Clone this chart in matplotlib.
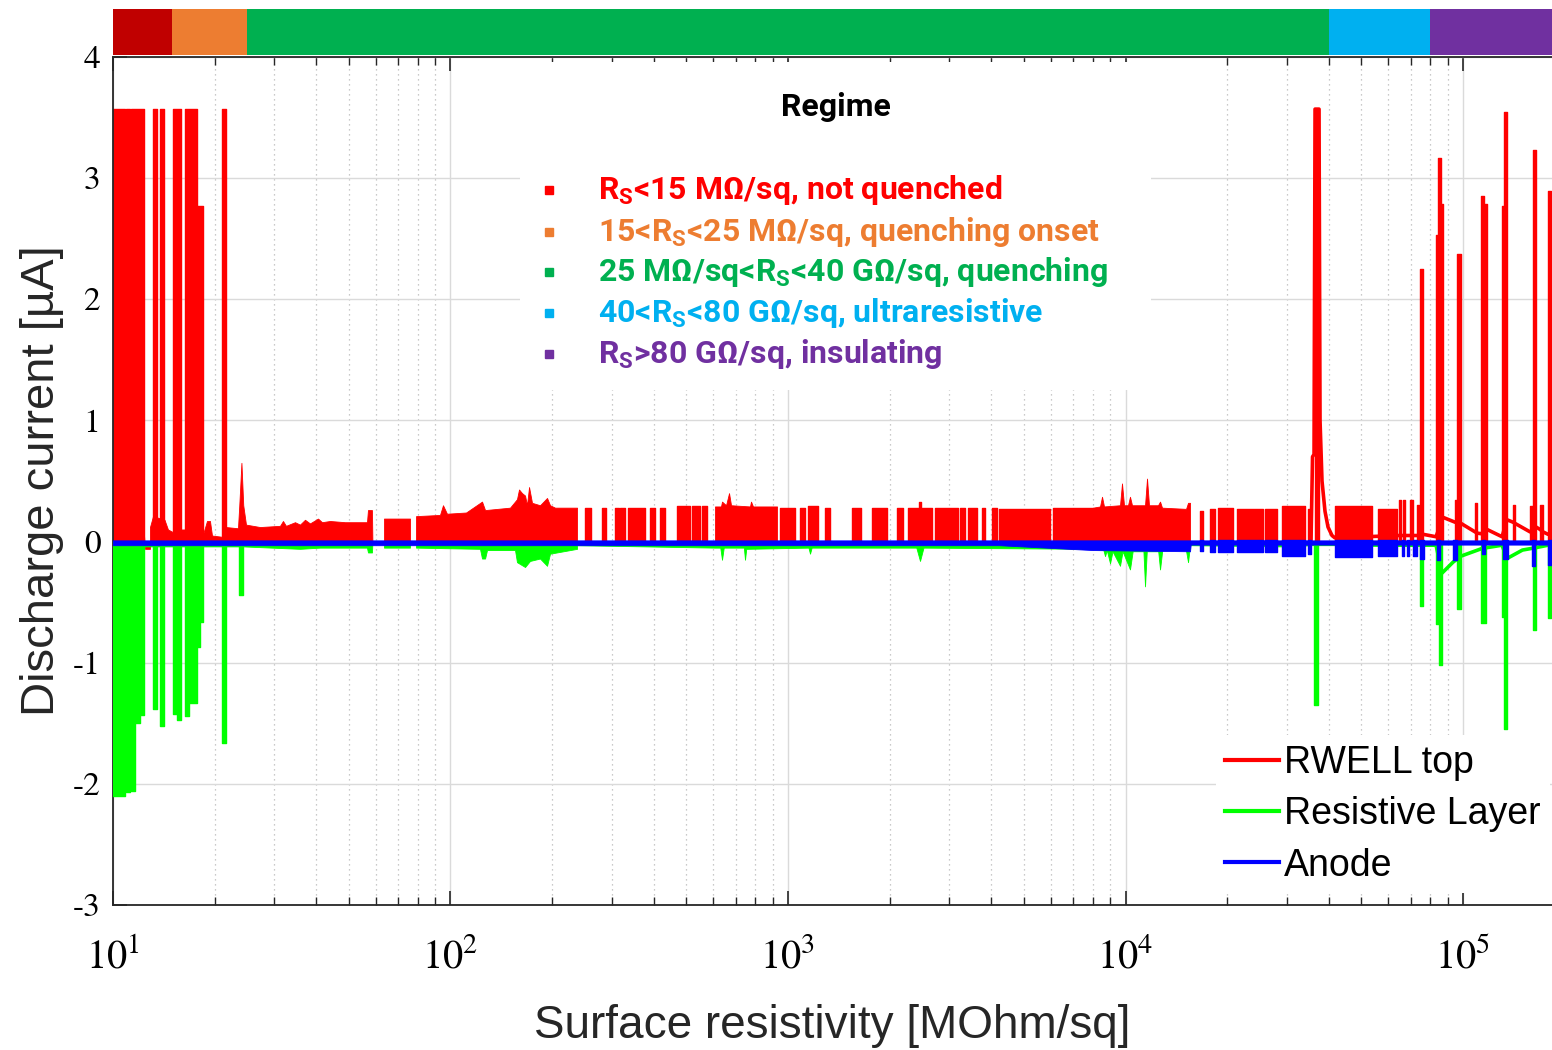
import matplotlib
matplotlib.use("Agg")
import matplotlib.pyplot as plt
from matplotlib.lines import Line2D
from matplotlib.patches import Rectangle

plt.rcParams['axes.unicode_minus'] = False
plt.rcParams['mathtext.fontset'] = 'stix'
plt.rcParams['mathtext.rm'] = 'Roboto'
plt.rcParams['mathtext.bf'] = 'Roboto:bold'

## Regimes (surface resistivity in MOhm/sq)
regime_edges = [10, 15, 25, 40000, 80000, 183500]
regime_colors = ["#C00000", "#ED7D31", "#00B050", "#00B0F0", "#7030A0"]
regime_text_colors = ["#FF0000", "#ED7D31", "#00B050", "#00B0F0", "#7030A0"]
regime_labels = [
    r"$\mathbf{R_S}$<15 MΩ/sq, not quenched",
    r"15<$\mathbf{R_S}$<25 MΩ/sq, quenching onset",
    r"25 MΩ/sq<$\mathbf{R_S}$<40 GΩ/sq, quenching",
    r"40<$\mathbf{R_S}$<80 GΩ/sq, ultraresistive",
    r"$\mathbf{R_S}$>80 GΩ/sq, insulating",
]
series_labels = ["RWELL top", "Resistive Layer", "Anode"]

## RWELL top: dense envelope (filled to 0)
rwell_env_x = [12.36, 12.44, 12.87, 12.87, 13.14, 14.21, 14.55, 15.01, 15.90, 16.29,
               18.48, 18.99, 19.38, 19.65, 20.99, 21.62, 23.46, 23.67, 24.02, 24.32,
               24.78, 27.27, 31.25, 31.89, 32.55, 34.62, 35.81, 37.06, 38.34, 40.50,
               41.62, 43.95, 48.69, 56.57, 56.95, 58.52, 58.70, 63.53, 63.53, 75.86,
               75.86, 79.04, 79.04, 93.09, 95.01, 97.63, 111.2, 124.0, 126.6, 150.1,
               157.4, 159.6, 162.9, 166.3, 168.5, 170.9, 174.4, 184.2, 193.2, 197.2,
               204.1, 237.1, 237.1,
               607.7, 607.7, 633.1, 637.5, 655.2, 668.8, 678.0, 771.6, 776.9, 787.5,
               927.8, 927.8,
               8012, 8012, 8404, 8519, 8636, 9632, 9763, 9899, 10172, 10310,
               10454, 11424, 11580, 11738, 12484, 12656, 12829, 15113, 15320, 15530, 15530]
rwell_env_y = [0.05, -0.06, -0.06, 0.12, 0.21, 0.18, 0.10, 0.08, 0.10, 0.10,
               0.06, 0.17, 0.17, 0.05, 0.04, 0.12, 0.11, 0.30, 0.65, 0.30,
               0.14, 0.12, 0.13, 0.17, 0.13, 0.16, 0.14, 0.18, 0.15, 0.19,
               0.16, 0.17, 0.16, 0.16, 0.26, 0.26, 0.0, 0.0, 0.19, 0.19,
               0.0, 0.0, 0.21, 0.22, 0.30, 0.23, 0.24, 0.33, 0.26, 0.28,
               0.35, 0.43, 0.40, 0.38, 0.30, 0.45, 0.32, 0.30, 0.36, 0.30,
               0.28, 0.28, 0.0,
               0.0, 0.29, 0.29, 0.33, 0.30, 0.40, 0.30, 0.29, 0.33, 0.29,
               0.29, 0.0,
               0.0, 0.28, 0.29, 0.37, 0.29, 0.30, 0.48, 0.30, 0.30, 0.37,
               0.30, 0.30, 0.52, 0.30, 0.30, 0.33, 0.28, 0.27, 0.32, 0.32, 0.0]

## RWELL top: blocks (start, end, top)
rwell_x0 = [10.0, 10.93, 11.31, 13.14, 13.78, 15.01, 16.29, 17.74, 20.99,
            250.4, 281.1, 307.2, 317.8, 335.7, 390.1, 417.6, 469.0, 519.5, 556.1,
            947, 1085, 1147, 1287, 1547, 1774, 2104, 2268, 2440, 2727, 3233, 3415,
            3756, 4021, 4219, 6099,
            16630, 17800, 18800, 21400, 25900, 29090, 34740, 36440, 41760, 56010,
            64630, 66420, 69660, 73060, 74580, 83180, 84320, 86070, 94700, 96000,
            108550, 113070, 115420, 130500, 132300, 140650, 158000, 161300, 169130, 178600]
rwell_x1 = [10.82, 11.21, 12.36, 13.53, 14.21, 15.87, 17.74, 18.48, 21.62,
            260.9, 288.9, 315.7, 328.9, 377.1, 403.6, 432.2, 512.4, 548.6, 575.4,
            1049, 1123, 1227, 1332, 1646, 1965, 2191, 2672, 2480, 3189, 3345, 3631,
            3834, 4162, 5975, 8012,
            16970, 18420, 20820, 25550, 28110, 34040, 35450, 37440, 53770, 63750,
            65520, 67320, 71100, 74060, 76120, 84320, 86070, 87250, 96000, 98650,
            110040, 115420, 117800, 132300, 135000, 142600, 161300, 164600, 172580, 182300]
rwell_top = [3.57, 3.57, 3.57, 3.57, 3.57, 3.57, 3.57, 2.77, 3.57,
             0.28, 0.28, 0.28, 0.28, 0.28, 0.28, 0.28, 0.29, 0.29, 0.29,
             0.28, 0.28, 0.29, 0.28, 0.28, 0.28, 0.28, 0.28, 0.33, 0.28, 0.28, 0.28,
             0.28, 0.28, 0.27, 0.28,
             0.25, 0.27, 0.28, 0.27, 0.27, 0.29, 0.27, 3.57, 0.29, 0.27,
             0.34, 0.34, 0.34, 0.30, 2.25, 2.53, 3.17, 2.79, 0.34, 2.37,
             0.32, 2.85, 2.79, 2.77, 3.55, 0.30, 0.29, 3.23, 0.30, 2.89]

## RWELL top: decay tails
rwell_line_x = [35450, 35820, 36190, 36440, 37440, 37700, 38210, 39000, 39810, 40910, 41760,
                63750, 74580, 76120, 83180, 87250, 94700, 98650, 108550, 110040, 113070,
                117800, 130500, 135000, 140650, 142600, 158000, 164600, 169130, 172580,
                178600, 182300, 183500]
rwell_line_y = [0.0, 0.70, 0.72, 3.57, 3.57, 1.0, 0.5, 0.25, 0.12, 0.05, 0.03,
                0.05, 0.05, 0.06, 0.04, 0.20, 0.16, 0.15, 0.08, 0.07, 0.065,
                0.10, 0.04, 0.18, 0.16, 0.15, 0.08, 0.12, 0.10, 0.08,
                0.06, 0.06, 0.06]

## Resistive layer: blocks (start, end, bottom)
resist_x0 = [10.0, 10.93, 11.31, 11.62, 12.02, 13.14, 13.78, 15.01, 15.44, 16.29,
             16.83, 17.74, 18.11, 20.99, 23.67, 36190, 74580, 83180, 84900, 96000,
             113070, 130500, 132300, 161300, 178600]
resist_x1 = [10.82, 11.21, 11.62, 12.02, 12.36, 13.53, 14.21, 15.44, 15.87, 16.83,
             17.74, 18.11, 18.48, 21.62, 24.32, 37190, 76120, 84900, 86660, 98650,
             117000, 132300, 135000, 164600, 182300]
resist_low = [-2.10, -2.07, -2.06, -1.50, -1.43, -1.38, -1.52, -1.42, -1.47, -1.44,
              -1.33, -0.87, -0.66, -1.66, -0.44, -1.35, -0.53, -0.68, -1.02, -0.56,
              -0.67, -0.62, -1.55, -0.73, -0.63]

## Resistive layer: dense envelope (filled to 0)
resist_env_x = [10, 24.32, 35.81, 41.06, 56.57, 56.95, 58.52, 58.70, 63.53, 63.53,
                75.86, 75.86, 79.04, 79.04, 122.3, 124.0, 126.6, 128.3, 155.3, 157.4,
                166.3, 172.0, 184.2, 193.2, 197.2, 237.1, 237.1, 607.7, 630.0, 637.5,
                645.0, 740.0, 745.8, 752.0, 1150, 1162, 1175, 2400, 2461, 2520,
                8012, 8600, 8696, 8800, 8999, 9150, 9632, 9800, 10310, 10500,
                11300, 11424, 11560, 12500, 12656, 12850, 15100, 15320, 15530, 29090,
                29900, 30720, 35450, 41760, 63750]
resist_env_y = [-0.04, -0.04, -0.06, -0.05, -0.05, -0.09, -0.09, -0.01, -0.01, -0.05,
                -0.05, -0.01, -0.01, -0.05, -0.06, -0.14, -0.14, -0.07, -0.07, -0.17,
                -0.21, -0.16, -0.14, -0.20, -0.10, -0.06, -0.03, -0.05, -0.05, -0.15,
                -0.05, -0.05, -0.15, -0.06, -0.05, -0.10, -0.05, -0.05, -0.16, -0.05,
                -0.06, -0.07, -0.12, -0.07, -0.18, -0.08, -0.20, -0.08, -0.23, -0.08,
                -0.08, -0.37, -0.08, -0.08, -0.23, -0.07, -0.07, -0.17, -0.03, -0.04,
                -0.12, -0.04, -0.03, -0.03, -0.04]

## Resistive layer: trace in the insulating end
resist_line_x = [63750, 83180, 86660, 93420, 98650, 113070, 117800, 130500, 135000,
                 150000, 164600, 178600, 183500]
resist_line_y = [-0.03, -0.03, -0.26, -0.17, -0.12, -0.06, -0.05, -0.03, -0.14,
                 -0.07, -0.05, -0.03, -0.03]

## Anode: band around zero and blocks (start, end, bottom)
anode_band_x = [10, 4219, 8012, 15530, 15600, 183500]
anode_band_low = [-0.03, -0.03, -0.07, -0.08, -0.025, -0.025]
anode_x0 = [16630, 17800, 18800, 21400, 25900, 29090, 34740, 41760, 56010, 65970,
            68260, 71100, 74580, 83750, 93420, 113840, 131400, 160200, 178600]
anode_x1 = [16970, 18420, 20820, 25550, 28110, 34040, 35450, 53770, 63750, 66870,
            69180, 73060, 76630, 85490, 96000, 116210, 135940, 163500, 183500]
anode_low = [-0.08, -0.09, -0.09, -0.09, -0.09, -0.12, -0.10, -0.13, -0.12, -0.12,
             -0.12, -0.12, -0.14, -0.15, -0.15, -0.10, -0.14, -0.20, -0.19]

c_red, c_green, c_blue = "#FF0000", "#00FF00", "#0000FF"
x_lim = (10, 183500)

fig = plt.figure(figsize=(15.52, 10.5), dpi=100)
ax = fig.add_axes([0.0728, 0.1381, 0.9272, 0.8076])
ax_bar = fig.add_axes([0.0728, 0.9476, 0.9272, 0.0438])

## Regime bar
ax_bar.set_xscale('log')
for i in range(len(regime_colors)):
    ax_bar.axvspan(regime_edges[i], regime_edges[i + 1], color=regime_colors[i], lw=0)
ax_bar.set_xlim(*x_lim)
ax_bar.set_ylim(0, 1)
ax_bar.axis('off')

## Data
ax.set_xscale('log')
ax.fill_between(rwell_env_x, 0, rwell_env_y, color=c_red, lw=0.6, zorder=2)
for a, b, v in zip(rwell_x0, rwell_x1, rwell_top):
    ax.fill_between([a, b], 0, v, color=c_red, lw=1.0, zorder=2)
ax.plot(rwell_line_x, rwell_line_y, color=c_red, lw=2.6, zorder=2)

ax.fill_between(resist_env_x, 0, resist_env_y, color=c_green, lw=0.6, zorder=3)
for a, b, v in zip(resist_x0, resist_x1, resist_low):
    ax.fill_between([a, b], 0, v, color=c_green, lw=1.0, zorder=3)
ax.plot(resist_line_x, resist_line_y, color=c_green, lw=2.6, zorder=3)

ax.fill_between(anode_band_x, anode_band_low, 0.01, color=c_blue, lw=0.6, zorder=4)
for a, b, v in zip(anode_x0, anode_x1, anode_low):
    ax.fill_between([a, b], 0.01, v, color=c_blue, lw=1.0, zorder=4)

## Axes
ax.set_xlim(*x_lim)
ax.set_ylim(-3, 4)
ax.set_yticks(range(-3, 5))
ax.set_axisbelow(True)
ax.grid(True, which='major', color='#dadada', lw=1.0, ls='-')
ax.grid(True, which='minor', axis='x', color='#b8b8b8', lw=0.9, ls=(0, (1, 3)))
ax.tick_params(which='both', direction='in', top=True, right=False, color='#262626')
ax.tick_params(which='major', length=10, width=1.2)
ax.tick_params(which='minor', length=6, width=1.0)
ax.tick_params(axis='x', labelsize=29, pad=24, labelfontfamily='STIXGeneral')
ax.tick_params(axis='y', labelsize=24, pad=9, labelfontfamily='STIXGeneral')
for side in ['left', 'bottom', 'top']:
    ax.spines[side].set_color('#262626')
    ax.spines[side].set_linewidth(1.3)
ax.spines['right'].set_visible(False)
ax.set_xlabel("Surface resistivity [MOhm/sq]", fontsize=33, family='Liberation Sans',
              color='#262626', labelpad=19)
ax.set_ylabel("Discharge current [µA]", fontsize=34, family='Liberation Sans',
              color='#262626', labelpad=6)

## Regime box
ax.add_patch(Rectangle((0.283, 0.607), 0.438, 0.387, transform=ax.transAxes,
                       facecolor='white', edgecolor='none', zorder=1))
ax.text(0.5024, 0.941, "Regime", transform=ax.transAxes, ha='center', va='center',
        fontsize=23, family='Roboto', weight='bold', color='black', zorder=6)
entry_y = [0.8432, 0.7936, 0.7465, 0.6981, 0.6498]
for lab, col, yy in zip(regime_labels, regime_text_colors, entry_y):
    ax.plot([0.303], [yy], 's', ms=6, color=col, transform=ax.transAxes, zorder=6)
    ax.text(0.337, yy, lab, transform=ax.transAxes, ha='left', va='center',
            fontsize=23, family='Roboto', weight='bold', color=col,
            math_fontfamily='custom', zorder=6)

## Series legend
handles = [Line2D([], [], color=c, lw=3) for c in (c_red, c_green, c_blue)]
leg = ax.legend(handles, series_labels, loc='lower right', bbox_to_anchor=(1.007, 0.0),
                prop={'family': 'Liberation Sans', 'size': 27},
                frameon=True, facecolor='white', edgecolor='none', framealpha=1,
                fancybox=False, handlelength=1.45, handletextpad=0.13,
                borderaxespad=0.32, borderpad=0.25, labelspacing=0.41)
leg.set_zorder(6)

fig.savefig("out.png", dpi=100)
